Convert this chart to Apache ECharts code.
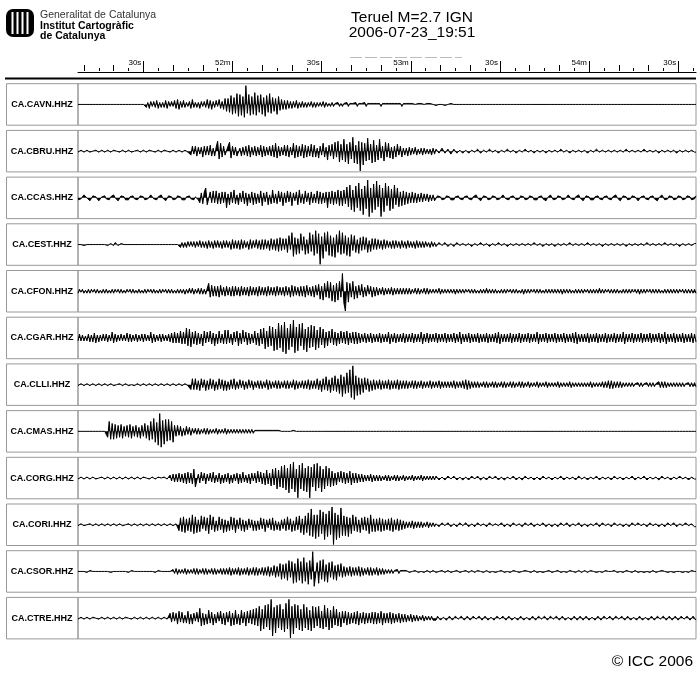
<!DOCTYPE html>
<html><head><meta charset="utf-8">
<script src="https://cdn.jsdelivr.net/npm/echarts@6/dist/echarts.min.js"></script>
<style>html,body{margin:0;padding:0;background:#fff}#c{width:700px;height:683px}</style>
</head><body><div id="c"></div>
<script>
// Seconds after 19:51:00 ; two samples per second ; one text row = 10 s
const stations = ['CA.CAVN.HHZ','CA.CBRU.HHZ','CA.CCAS.HHZ','CA.CEST.HHZ','CA.CFON.HHZ','CA.CGAR.HHZ',
                  'CA.CLLI.HHZ','CA.CMAS.HHZ','CA.CORG.HHZ','CA.CORI.HHZ','CA.CSOR.HHZ','CA.CTRE.HHZ'];
const t0 = 8, dt = 0.5;
const axisMin = 8, axisMax = 216;
const majorTicks = [30,60,90,120,150,180,210];
const majorLabels = ['30s','52m','30s','53m','30s','54m','30s'];
const tenTicks = [10,20,40,50,70,80,100,110,130,140,160,170,190,200];
const fiveTicks = [15,25,35,45,55,65,75,85,95,105,115,125,135,145,155,165,175,185,195,205,215];

const CAVN = [
0,0,0,0,0,0,0,0,0,0,0,0,0,0,0,0,0,0,0,0,
0,0,0,0,0,0,0,0,0,0,0,0,0,0,0,0,0,0,0,0,
0,0,0,0,0,0,3,-2,4,-3,2,-3,3,-4,4,-2,3,-2,3,-4,
4,-3,2,-3,2,-4,4,-5,5,-3,3,-4,3,-2,2,-3,4,-5,3,-2,
3,-2,4,-3,2,-3,3,-5,4,-4,5,-3,3,-4,2,-5,4,-3,5,-6,
7,-6,8,-9,10,-7,9,-11,12,-10,11,-8,13,-19,9,-10,11,-8,10,-12,
11,-9,8,-10,10,-7,12,-9,8,-11,9,-7,7,-6,10,-8,6,-5,5,-4,
5,-4,4,-3,4,-3,3,-4,4,-2,3,-3,3,-2,3,-2,2,-3,3,-2,
3,-2,2,-2,2,-3,3,-2,2,-1,2,-2,2,-1,1,-2,2,-1,2,-1,
1,-2,2,-1,1,-1,1,-2,2,-1,1,-1,1,-2,2,-1,1,-1,1,-1,
1,-1,1,-1,2,-1,1,-1,1,-1,1,-1,1,-1,1,-1,1,-1,2,-1,
1,-1,1,-1,1,-1,1,0,1,-1,1,-1,1,0,1,-1,1,-1,1,0,
0,1,1,0,-1,0,0,1,1,0,0,-1,-1,0,1,0,0,0,0,0,
1,0,-1,0,0,0,0,0,1,0,0,0,0,0,0,0,0,0,0,0,
0,0,0,0,0,0,1,0,-1,0,0,0,0,0,0,0,0,0,1,0,
0,0,0,0,0,0,0,0,0,0,0,0,0,0,1,0,-1,0,0,0,
0,0,0,0,0,0,0,0,0,0,0,0,0,0,0,0,0,0,1,0,
0,0,0,0,0,0,0,0,0,0,0,0,0,0,0,0,0,0,0,0,
0,0,0,0,0,0,0,0,0,0,0,0,0,0,0,0,0,0,0,0,
0,0,0,0,0,0,0,0,0,0,0,0,0,0,0,0,0,0,0,0,
0,0,0,0,0,0,0,0,0,0,0,0,0,0,0,0,0];
const CBRU = [
1,1,-1,-1,1,0,-1,-1,1,1,0,-1,-1,1,1,0,-1,-1,1,1,
-1,0,1,1,-1,-1,0,1,1,-1,-1,0,1,1,-1,-1,1,1,0,-1,
-1,1,1,0,-1,-1,1,1,-1,-1,0,1,1,-1,-1,0,1,1,-1,-1,
0,1,1,-1,-1,0,1,1,-1,-1,1,0,-1,1,1,-1,4,-5,3,-5,
5,-4,3,-4,6,-5,4,-5,4,-6,5,-3,5,-4,-10,8,-8,6,-5,4,
6,-5,-9,7,-5,4,-4,5,6,-3,5,-4,4,-5,5,-6,6,-4,4,-5,
5,-4,4,-6,6,-5,5,-4,4,-5,5,-6,6,-8,7,-5,5,-4,4,-6,
5,-6,6,-4,4,-8,7,-6,6,-5,5,-7,7,-6,6,-5,5,-7,6,-6,
6,-3,7,-5,4,-8,6,-4,9,-6,5,-7,8,-9,6,-10,11,-7,9,-12,
11,-7,13,-9,8,-14,12,-6,13,-10,20,-9,14,-8,10,-13,9,-7,12,-11,
11,-6,9,-12,7,-5,10,-9,6,-8,7,-4,8,-5,6,-7,4,-5,6,-3,
4,-3,5,-4,4,-3,3,-4,4,-2,3,-3,4,-3,3,-2,3,-2,4,-3,
3,-2,-3,2,2,-3,-3,2,3,-2,-2,3,3,-2,-2,2,2,-1,-2,2,
2,-1,-2,2,2,-1,-2,1,2,-2,-1,2,2,-1,-2,1,1,-2,-2,1,
2,-1,-1,2,2,-1,-2,1,1,-2,-2,1,2,-1,-1,2,2,-1,-2,1,
1,-2,-2,1,2,-1,-1,2,2,-1,-2,1,1,-1,-1,2,2,-1,-1,1,
2,-1,-1,1,1,-2,-2,1,1,-1,-1,2,2,-1,-1,1,1,-1,-2,1,
1,-1,-1,2,2,-1,-1,1,1,-2,-2,1,1,-1,-1,1,1,-1,-1,1,
2,-1,-1,1,1,-1,-1,1,1,-2,-2,1,1,-1,-1,1,1,-1,-1,1,
1,-2,-1,1,1,-1,-1,1,1,-1,-1,2,2,-1,-1,1,1,-1,-1,1,
1,-1,-1,2,2,-1,-1,1,1,-1,-1,1,1,-1,-1,1,1];
const CCAS = [
2,3,1,-1,-3,-2,0,2,3,1,-2,-3,-1,1,3,2,-1,-3,-2,1,
3,2,-1,-2,-3,0,2,3,1,-2,-3,-1,2,3,2,-1,-3,-2,1,3,
2,0,-2,-3,-1,2,3,1,-1,-3,-2,1,3,2,-1,-2,-3,0,2,3,
1,-2,-3,-1,2,3,1,-2,-3,-1,2,3,2,-1,-3,-2,1,3,2,-1,
-3,2,5,-5,6,-6,-10,7,6,-6,5,-7,5,-7,6,-5,6,-6,5,-6,
10,-4,7,-6,5,-8,6,-3,7,-5,4,-7,6,-5,8,-4,5,-6,7,-5,
6,-4,5,-7,8,-5,4,-6,7,-3,6,-8,5,-4,6,-7,4,-6,8,-5,
5,-7,4,-6,8,-5,3,-6,7,-8,5,-4,6,-7,4,-5,7,-6,5,-4,
5,-7,6,-6,6,-5,5,-6,10,-6,6,-7,7,-6,6,-8,8,-7,8,-8,
6,-11,9,-13,12,-8,14,-12,10,-15,13,-9,17,-12,11,-18,19,-10,15,-14,
12,-17,9,-13,19,-10,14,-15,8,-12,13,-9,11,-13,7,-10,9,-6,8,-7,
7,-6,6,-5,5,-6,5,-5,5,-4,4,-5,4,-4,3,-4,4,-3,3,-3,
3,1,-2,-3,-1,2,3,1,-2,-3,-1,2,3,2,-1,-3,-2,1,3,2,
-1,-3,-2,1,3,2,-1,-2,-3,0,2,3,1,-2,-3,-1,2,3,1,-2,
-3,-1,2,3,1,-1,-3,-2,1,3,2,-1,-3,-2,0,2,3,1,-2,-3,
-1,2,3,1,-2,-3,-1,2,3,2,-1,-3,-2,1,2,3,0,-2,-3,-1,
2,3,1,-2,-3,-1,2,3,1,-1,-3,-2,1,3,2,-1,-2,-3,0,2,
3,1,-2,-3,-1,2,3,2,-1,-3,-2,1,3,2,-1,-3,-2,1,3,2,
-1,-2,-3,0,2,3,1,-2,-3,-1,2,3,1,-2,-3,-1,1,3,2,-1,
-3,-2,1,3,2,-1,-3,-2,1,2,3,0,-2,-3,-1,2,3,1,-2,-3,
-1,2,3,1,-2,-3,-1,2,3,1,-2,-3,-1,2,3,1,-2];
const CEST = [
0,0,0,1,1,-1,0,0,0,0,0,0,0,1,0,0,0,0,0,0,
1,0,-1,1,1,-2,-1,1,1,-1,0,0,0,0,0,0,0,0,0,0,
1,0,-1,0,0,0,0,0,0,0,0,0,1,0,-1,0,0,0,0,0,
0,0,0,0,1,0,-1,0,0,3,-2,3,-2,3,-3,2,-3,2,-3,3,
-3,2,-4,3,-3,3,-3,4,-4,3,-3,4,-4,3,-4,3,-3,4,-4,3,
-4,3,-3,5,-5,4,-4,4,-4,5,-5,4,-4,3,-3,5,-5,4,-4,3,
-5,4,-4,5,-5,5,-5,4,-4,6,-6,5,-5,6,-6,7,-7,6,-6,5,
-6,8,-9,5,-12,12,-7,10,-6,9,-11,6,-8,10,-5,9,-12,7,-10,11,
-14,9,-11,20,-8,14,-12,7,-13,11,-9,12,-7,13,-10,8,-14,10,-12,9,
-9,11,-7,12,-10,6,-9,8,-5,9,-7,6,-8,5,-7,8,-4,7,-6,5,
-6,5,-5,4,-4,5,-5,4,-4,3,-3,4,-4,4,-4,3,-3,4,-4,3,
-3,4,-4,3,-3,3,-3,4,-4,3,-3,3,-3,3,-3,2,-2,3,-3,2,
-2,2,2,-2,-2,1,1,-2,-2,2,2,-1,-1,2,2,-2,-2,1,1,-1,
-2,1,1,-1,-1,2,2,-1,-1,1,1,-2,-2,1,1,-1,-1,2,2,-1,
-1,1,1,-2,-2,1,1,-1,-1,2,2,-1,-1,1,1,-1,-1,1,1,-1,
-2,1,1,-1,-1,1,1,-2,-2,1,1,-1,-1,2,2,-1,-1,1,1,-1,
-1,2,2,-1,-1,1,1,-1,-1,1,1,-2,-2,1,1,-1,-1,1,1,-1,
-1,1,1,-2,-2,1,1,-1,-1,1,1,-1,-1,2,2,-1,-1,1,1,-1,
-2,1,1,-1,-1,1,1,-1,-1,2,2,-1,-1,1,1,-1,-1,1,1,-1,
-1,1,1,-2,-2,1,1,-1,-1,1,1,-1,-1,1,1,-2,-2,1,1,-1,
-1,1,1,-1,-1,2,2,-1,-1,1,1,-1,-1,1,1,-1,-1];
const CFON = [
2,-2,1,-2,2,-1,2,-2,2,-2,1,-2,2,-2,2,-1,2,-2,2,-2,
2,-1,2,-2,2,-2,1,-2,2,-2,2,-1,2,-2,1,-2,2,-2,2,-1,
2,-2,2,-1,2,-2,2,-2,1,-2,2,-2,2,-1,2,-2,2,-2,1,-2,
2,-2,2,-2,2,-1,2,-2,2,-2,2,-2,3,-2,2,-3,2,-3,3,-2,
2,-3,3,-3,3,-2,3,-3,-8,6,-6,5,-5,5,-5,6,-6,4,-4,5,
-5,4,-4,5,-5,5,-5,4,-4,5,-5,4,-4,4,-4,5,-5,4,-4,4,
-4,5,-5,4,-4,4,-4,5,-5,4,-4,4,-4,5,-5,4,-4,4,-4,5,
-5,4,-4,6,-6,5,-5,4,-4,5,-5,5,-5,6,-6,4,-4,5,-5,6,
-6,4,-7,8,-5,9,-8,6,-10,7,-9,10,-6,11,-8,9,-10,6,-18,12,
20,-9,11,-8,6,-10,8,-5,7,-6,4,-7,6,-4,5,-6,3,-5,6,-4,
5,-4,4,-3,3,-4,4,-3,3,-3,3,-4,4,-3,3,-3,3,-3,3,-3,
3,-3,3,-3,3,-2,2,-3,3,-3,3,-2,2,-3,3,-3,3,-2,2,-2,
2,-2,2,-3,3,-2,2,-2,2,-2,2,-2,2,-2,3,-2,2,-2,2,-2,
2,-2,1,-2,2,-2,2,-2,2,-1,2,-2,2,-2,2,-3,2,-2,2,-2,
2,-2,2,-1,2,-2,2,-2,2,-2,1,-2,2,-2,2,-2,2,-1,2,-2,
3,-2,2,-2,2,-2,1,-2,2,-2,2,-2,2,-1,2,-2,2,-2,2,-2,
2,-2,2,-2,2,-2,3,-2,2,-2,2,-2,2,-1,2,-2,2,-2,2,-2,
2,-2,1,-2,2,-2,2,-2,2,-2,2,-3,2,-2,2,-2,1,-2,2,-2,
2,-2,2,-2,2,-1,2,-2,2,-2,2,-2,2,-2,1,-2,2,-2,3,-2,
2,-2,2,-2,1,-2,2,-2,2,-2,2,-2,2,-1,2,-2,2,-2,2,-2,
2,-2,2,-2,2,-2,1,-2,2,-2,2,-2,2,-2,2,-2,2];
const CGAR = [
3,-4,3,-3,3,-2,3,-4,4,-3,4,-5,5,-3,4,-3,3,-4,3,-4,
4,-3,3,-6,5,-4,4,-3,3,-4,3,-3,3,-5,4,-4,4,-3,3,-4,
4,-3,3,-4,4,-4,3,-3,3,-6,5,-4,4,-3,3,-4,4,-4,3,-3,
3,-4,4,-5,5,-6,5,-5,5,-7,6,-6,6,-10,8,-9,9,-6,6,-7,
7,-5,6,-4,8,-7,5,-6,4,-7,6,-5,8,-4,6,-7,5,-4,6,-8,
6,-8,5,-4,7,-6,4,-7,8,-5,6,-8,4,-6,7,-5,6,-4,5,-7,
7,-5,8,-9,6,-10,11,-7,9,-12,8,-11,13,-9,12,-15,10,-13,14,-16,
16,-10,12,-14,9,-18,15,-11,13,-14,8,-15,12,-9,14,-11,10,-13,9,-12,
12,-8,10,-11,7,-9,10,-6,8,-7,5,-9,7,-6,8,-5,6,-7,5,-6,
6,-7,7,-5,5,-6,6,-6,6,-5,5,-4,4,-5,5,-4,4,-5,5,-4,
4,-4,4,-5,5,-4,4,-4,4,-6,6,-4,4,-5,5,-4,4,-4,4,-5,
5,-4,4,-4,4,-5,5,-4,4,-4,4,-6,6,-4,4,-5,5,-4,4,-4,
4,-5,5,-4,4,-4,4,-5,5,-4,4,-4,4,-5,5,-4,4,-6,6,-4,
4,-4,4,-5,5,-4,4,-4,4,-5,5,-4,4,-4,4,-5,5,-4,4,-4,
4,-5,5,-6,6,-4,4,-4,4,-4,4,-5,5,-4,4,-4,4,-5,5,-4,
4,-4,4,-5,5,-4,4,-4,4,-6,6,-4,4,-4,4,-5,5,-4,4,-4,
4,-5,5,-4,4,-4,4,-5,5,-4,4,-4,4,-5,5,-6,6,-4,4,-4,
4,-4,4,-5,5,-4,4,-4,4,-5,5,-4,4,-4,4,-5,5,-4,4,-4,
4,-5,5,-4,4,-4,4,-6,6,-4,4,-4,4,-5,5,-4,4,-4,4,-5,
5,-4,4,-4,4,-5,5,-4,4,-4,4,-5,5,-4,4,-6,6,-4,4,-4,
4,-5,5,-4,4,-4,4,-5,5,-4,4,-4,4,-5,5,-4,4];
const CLLI = [
1,1,-1,-1,1,1,-1,-1,1,0,-1,-1,1,1,-1,-1,1,1,-1,0,
1,1,-1,-1,1,1,0,-1,-1,1,1,-1,-1,1,1,-1,0,1,1,-1,
-1,1,1,-1,-1,0,1,1,-1,-1,1,1,-1,-1,1,0,-1,-1,1,1,
-1,-1,1,1,-1,-1,1,1,-1,-1,1,1,-1,0,1,1,5,-6,5,-6,
5,-4,6,-6,3,-5,6,-4,5,-6,4,-5,6,-3,5,-6,4,-5,6,-4,
6,-3,5,-5,4,-6,5,-3,4,-5,3,-4,5,-3,4,-5,3,-4,5,-3,
3,-4,4,-4,4,-3,3,-5,5,-4,4,-3,3,-4,4,-4,4,-3,3,-4,
4,-4,4,-3,3,-5,5,-4,4,-3,3,-4,4,-4,4,-5,5,-4,4,-4,
4,-6,5,-4,7,-6,5,-8,6,-5,8,-7,6,-9,7,-6,9,-10,12,-8,
9,-12,8,-15,13,-19,15,-9,11,-7,10,-6,8,-7,5,-6,7,-4,6,-5,
5,-4,4,-5,5,-4,4,-4,4,-5,5,-4,4,-4,4,-5,5,-4,4,-4,
4,-4,4,-3,3,-4,4,-4,4,-3,3,-4,4,-3,3,-3,3,-4,4,-3,
3,-3,3,-4,4,-3,3,-3,3,-3,3,-3,3,-4,4,-3,3,-3,3,-4,
4,-5,5,-4,4,-3,3,-3,3,-3,3,-2,2,-3,3,-3,3,-2,2,-3,
3,-3,3,-2,2,-3,3,-3,3,-2,2,-3,3,-3,3,-2,2,-3,3,-3,
3,-2,2,-3,3,-2,2,-2,2,-3,3,-2,2,-2,2,-3,3,-2,2,-2,
2,-2,2,-3,3,-2,2,-2,2,-2,2,-3,3,-2,2,-2,2,-2,2,-2,
2,-2,2,-2,2,-3,3,-2,2,-2,2,-2,2,-3,3,-3,3,-4,4,-4,
4,-3,3,-3,3,-3,3,-2,2,-2,2,-2,2,-2,2,-1,1,-2,2,-2,
2,-1,1,-2,2,-2,2,-2,2,-1,1,-3,3,-3,3,-3,3,-2,2,-2,
2,-2,2,-2,2,-2,2,-2,2,-1,1,-2,2,-2,2,-2,2];
const CMAS = [
0,0,0,0,0,0,0,0,0,0,0,0,0,0,0,0,0,0,0,0,
6,-10,8,-8,8,-7,7,-6,6,-7,7,-5,5,-6,6,-7,7,-5,5,-6,
6,-4,7,-6,5,-8,7,-6,9,-10,8,-13,11,-9,14,-18,16,-11,13,-12,
10,-12,9,-10,11,-6,5,-6,4,-5,5,-3,4,-5,3,-4,4,-3,2,-3,
3,-3,3,-2,2,-3,3,-3,3,-2,2,-2,2,-3,3,-2,2,-2,2,-3,
3,-2,2,-2,2,-2,2,-2,2,-2,2,-2,2,-2,2,-2,2,-2,2,-1,
1,-1,1,-1,1,-1,1,-1,1,-1,1,-1,1,-1,1,-1,0,0,1,0,
-1,0,0,0,1,-1,0,0,0,0,0,0,0,0,0,0,0,0,1,0,
0,0,0,0,0,0,0,0,0,0,0,0,0,0,0,0,0,0,0,0,
0,0,0,0,0,0,0,0,0,0,0,0,0,0,0,0,0,0,0,0,
0,0,0,0,0,0,0,0,0,0,0,0,0,0,0,0,0,0,0,0,
0,0,0,0,0,0,0,0,0,0,0,0,0,0,0,0,0,0,0,0,
0,0,0,0,0,0,0,0,0,0,0,0,0,0,0,0,0,0,0,0,
0,0,0,0,0,0,0,0,0,0,0,0,0,0,0,0,0,0,0,0,
0,0,0,0,0,0,0,0,0,0,0,0,0,0,0,0,0,0,0,0,
0,0,0,0,0,0,0,0,0,0,0,0,0,0,0,0,0,0,0,0,
0,0,0,0,0,0,0,0,0,0,0,0,0,0,0,0,0,0,0,0,
0,0,0,0,0,0,0,0,0,0,0,0,0,0,0,0,0,0,0,0,
0,0,0,0,0,0,0,0,0,0,0,0,0,0,0,0,0,0,0,0,
0,0,0,0,0,0,0,0,0,0,0,0,0,0,0,0,0,0,0,0,
0,0,0,0,0,0,0,0,0,0,0,0,0,0,0,0,0];
const CORG = [
1,1,-1,-1,1,0,-1,-1,1,1,-1,-1,1,1,0,-1,-1,1,1,-1,
-1,1,1,-1,-1,1,1,0,-1,-1,1,1,-1,-1,1,1,-1,0,1,1,
-1,-1,1,1,-1,-1,0,1,1,-1,-1,1,1,-1,-1,1,0,-1,-1,1,
1,-1,-3,3,-4,4,-4,4,-5,4,-4,5,-5,6,-6,5,-5,6,-9,9,
9,-4,5,-6,3,-5,6,-4,3,-5,4,-6,5,-3,4,-5,6,-3,5,-4,
4,-5,6,-3,5,-4,3,-5,6,-4,5,-6,4,-3,5,-4,6,-5,3,-5,
5,-7,4,-6,6,-5,7,-8,6,-5,8,-9,7,-10,11,-8,9,-12,10,-13,
12,-10,15,-14,11,-16,14,-9,20,-13,11,-15,13,-10,14,-12,20,-11,9,-14,
13,-15,10,-12,14,-9,11,-12,8,-10,9,-7,8,-5,7,-6,4,-7,5,-6,
6,-5,5,-7,7,-5,5,-5,5,-4,4,-4,4,-3,3,-3,3,-4,4,-3,
3,-3,3,-3,3,-2,2,-3,3,-3,3,-2,2,-3,3,-3,3,-2,2,-3,
3,-2,2,-2,2,-3,3,-2,2,-2,2,-3,3,-2,2,-2,2,-2,2,-2,
2,-2,-2,2,2,-1,-1,2,2,-2,-2,1,1,-2,-2,2,2,-1,-1,2,
2,-1,-1,2,2,-2,-2,1,1,-2,-2,2,2,-1,-1,2,2,-2,-2,1,
1,-2,-2,2,2,-1,-1,2,2,-1,-1,1,1,-2,-2,2,2,-1,-1,2,
2,-2,-2,1,1,-1,-1,2,2,-1,-1,2,2,-2,-2,1,1,-1,-1,2,
2,-1,-1,1,1,-2,-2,2,2,-1,-1,1,1,-1,-1,2,2,-2,-2,1,
1,-1,-1,2,2,-1,-1,1,1,-2,-2,2,2,-1,-1,1,1,-1,-1,2,
2,-2,-2,1,1,-1,-1,2,2,-1,-1,1,1,-2,-2,2,2,-1,-1,1,
1,-2,-2,2,2,-1,-1,1,1,-1,-1,2,2,-2,-2,1,1,-1,-1,2,
2,-1,-1,1,1,-2,-2,1,1,-1,-1,2,2,-1,-1,1,1];
const CORI = [
1,1,-1,-1,1,1,0,-1,-1,1,1,-1,-1,0,1,1,-1,-1,1,1,
-1,-1,1,0,-1,-1,1,1,-1,-1,1,1,0,-1,-1,1,1,-1,-1,1,
1,-1,-1,0,1,1,-1,-1,1,1,-1,-1,1,0,-1,-1,1,1,-1,-1,
1,1,-1,-1,1,0,-1,-1,6,-7,7,-8,8,-6,6,-7,7,-10,9,-8,
8,-5,7,-9,4,-8,6,-7,9,-10,5,-8,7,-4,6,-8,5,-6,8,-5,
7,-4,6,-8,5,-7,8,-5,4,-7,6,-5,7,-4,5,-6,3,-5,6,-4,
6,-4,5,-7,4,-6,7,-5,3,-6,5,-7,6,-4,5,-3,6,-5,4,-6,
6,-8,5,-6,7,-4,6,-8,5,-9,8,-6,10,-9,8,-12,11,-16,12,-10,
14,-10,12,-15,9,-13,15,-11,12,-14,10,-18,20,-12,15,-10,13,-17,11,-9,
11,-8,12,-7,9,-10,6,-8,7,-5,8,-7,5,-8,6,-7,9,-10,7,-6,
7,-6,6,-7,7,-6,6,-5,5,-6,6,-7,7,-5,5,-6,6,-5,5,-4,
4,-3,3,-3,3,-4,4,-3,3,-3,3,-3,3,-2,2,-3,3,-2,2,-2,
2,-1,-1,2,2,-2,-2,1,1,-2,-2,2,2,-1,-1,2,2,-2,-2,1,
1,-2,-2,2,2,-1,-1,2,2,-2,-2,1,1,-1,-1,2,2,-2,-2,1,
2,-1,-1,1,1,-2,-2,2,2,-1,-1,2,2,-2,-2,1,1,-1,-1,2,
2,-2,-2,1,1,-2,-2,2,2,-1,-1,1,1,-2,-2,2,2,-1,-1,2,
1,-1,-1,2,2,-2,-2,1,1,-2,-2,2,2,-1,-1,1,1,-2,-2,2,
2,-1,-1,2,2,-1,-1,1,1,-2,-2,2,2,-2,-2,1,1,-1,-1,2,
2,-2,-2,1,1,-1,-1,2,2,-1,-1,2,2,-2,-2,1,1,-2,-2,1,
1,-1,-1,2,2,-2,-2,1,1,-1,-1,2,2,-1,-1,2,2,-2,-2,1,
1,-2,-2,2,2,-1,-1,1,1,-2,-2,1,1,-1,-1,2,2];
const CSOR = [
0,0,0,0,0,0,1,0,-1,0,0,0,0,0,0,0,0,0,0,0,
0,0,1,0,0,0,0,0,0,0,0,0,0,0,1,0,-1,0,0,0,
0,0,0,0,0,0,0,0,0,0,0,0,1,0,-1,0,0,0,0,0,
0,0,0,2,-2,2,-3,3,-2,2,-2,2,-3,3,-2,2,-2,2,-3,3,
-3,3,-2,2,-3,3,-3,3,-2,2,-3,3,-3,3,-2,2,-3,3,-3,3,
-3,3,-4,4,-3,3,-3,3,-4,4,-3,3,-3,3,-4,4,-3,3,-4,4,
-4,4,-3,3,-4,4,-4,4,-5,5,-4,4,-6,6,-5,5,-8,8,-7,7,
-8,9,-11,6,-10,12,-8,11,-13,9,-10,12,-14,10,-9,13,-11,8,-20,15,
15,-9,12,-11,8,-12,10,-7,11,-9,6,-10,8,-6,9,-7,5,-8,6,-5,
5,-4,4,-5,5,-4,4,-4,4,-5,5,-4,4,-3,3,-4,4,-4,4,-3,
3,-4,4,-3,3,-3,3,-2,2,-2,2,-2,2,-1,1,-2,2,-1,1,-1,
1,-1,-1,1,1,0,-1,-1,1,1,-1,0,1,1,-1,-1,0,1,1,-1,
-1,1,1,0,-1,-1,1,1,0,-1,-1,1,1,0,-1,-1,0,1,1,0,
-1,-1,1,1,0,-1,0,1,1,-1,-1,0,1,1,0,-1,-1,1,0,0,
-1,1,1,0,-1,-1,1,1,0,0,-1,1,1,-1,0,0,1,1,-1,0,
1,-1,-1,0,1,1,0,-1,-1,1,0,0,-1,1,1,0,-1,-1,0,1,
1,0,-1,-1,1,1,0,0,-1,1,1,-1,-1,0,1,1,0,-1,-1,1,
0,-1,1,1,0,-1,-1,0,1,1,-1,0,0,1,1,-1,-1,0,1,0,
0,-1,1,1,-1,0,0,1,1,-1,-1,0,1,1,0,-1,0,1,-1,0,
1,1,-1,0,0,1,-1,-1,0,1,1,0,-1,-1,1,0,0,1,-1,0,
-1,1,1,0,-1,0,1,1,-1,0,0,1,-1,-1,1,0,0];
const CTRE = [
1,1,-1,-1,1,0,-1,-1,1,1,-1,-1,0,1,1,-1,-1,1,1,0,
-1,-1,1,1,-1,-1,1,0,-1,-1,1,1,-1,-1,0,1,1,-1,-1,1,
1,-1,-1,1,1,0,-1,-1,1,1,-1,-1,1,0,-1,-1,1,1,-1,-1,
1,0,-5,4,-6,3,-5,6,-7,4,-6,5,-3,5,-7,6,-4,6,-5,3,
-6,4,-10,8,-5,7,-4,6,-8,5,-6,7,-4,5,-6,3,-7,6,-5,7,
-6,4,-7,8,-5,7,-8,6,-4,7,-8,5,-6,8,-7,5,-8,6,-9,7,
-10,8,-12,13,-9,11,-13,9,-14,12,-19,18,-11,15,-13,10,-14,12,-9,14,
-15,11,-19,20,-12,16,-14,10,-13,12,-9,13,-14,10,-11,12,-8,13,-12,10,
-11,8,-12,10,-7,11,-13,9,-10,12,-8,10,-12,7,-9,8,-6,9,-7,5,
-7,7,-6,6,-5,5,-6,6,-7,7,-5,5,-6,6,-5,5,-5,5,-6,6,
-6,6,-5,5,-7,7,-5,5,-5,5,-6,6,-5,5,-4,4,-5,5,-4,4,
-4,4,-3,3,-4,4,-3,3,-3,3,-2,2,-3,3,-2,2,-2,2,-2,2,
2,2,-2,-2,2,1,-1,-2,2,2,-2,-2,2,2,-2,-2,1,1,-2,-2,
2,2,-2,-2,2,2,-2,-2,1,1,-2,-2,2,2,-2,-2,2,2,-1,-1,
2,2,-2,-2,1,1,-2,-2,2,2,-2,-2,2,2,-1,-1,2,2,-2,-2,
2,2,-1,-1,2,2,-2,-2,2,2,-2,-2,1,1,-2,-2,2,2,-2,-2,
1,1,-2,-2,2,2,-2,-2,2,2,-1,-1,2,2,-2,-2,2,2,-2,-2,
2,2,-2,-2,2,2,-1,-1,2,2,-2,-2,2,2,-2,-2,1,1,-2,-2,
2,2,-2,-2,1,1,-2,-2,2,2,-2,-2,2,2,-1,-1,2,2,-2,-2,
2,2,-1,-1,2,2,-2,-2,2,2,-2,-2,1,1,-2,-2,2,2,-2,-2,
2,2,-2,-2,2,2,-2,-2,1,1,-2,-2,2,2,-2,-2,2];

const traces = [CAVN, CBRU, CCAS, CEST, CFON, CGAR, CLLI, CMAS, CORG, CORI, CSOR, CTRE];

const FONT = '"Liberation Sans", Arial, sans-serif';
const rowTop0 = 83.7, rowStep = 46.7, rowH = 41.5;
const grids = [], xAxes = [], yAxes = [], series = [], graphics = [];

stations.forEach((name, i) => {
  const top = rowTop0 + rowStep * i;
  grids.push({left: 78, right: 4, top: top, height: rowH, show: true, borderColor: '#999', borderWidth: 1, backgroundColor: 'transparent'});
  xAxes.push({gridIndex: i, type: 'value', min: axisMin, max: axisMax, show: false});
  yAxes.push({gridIndex: i, type: 'value', min: -21, max: 21, inverse: true, show: false});
  series.push({
    type: 'line', xAxisIndex: i, yAxisIndex: i, symbol: 'none', showSymbol: false, silent: true, clip: true,
    lineStyle: {color: '#000', width: 1},
    areaStyle: {color: '#000', opacity: 1, origin: 0},
    data: traces[i].map((v, k) => [t0 + k * dt, v])
  });
  graphics.push({type: 'rect', shape: {x: 6.5, y: top, width: 71.5, height: rowH},
    style: {fill: 'none', stroke: '#999', lineWidth: 1}});
  graphics.push({type: 'text', x: 42, y: top + rowH / 2,
    style: {text: name, fontSize: 9, fontWeight: 'bold', fontFamily: FONT, fill: '#000', align: 'center', verticalAlign: 'middle'}});
});

// time ruler (grid index 12)
grids.push({left: 78, right: 4, top: 71, height: 1, show: false});
yAxes.push({gridIndex: 12, type: 'value', show: false, min: 0, max: 1});
xAxes.push({gridIndex: 12, type: 'value', position: 'top', min: axisMin, max: axisMax,
  axisLine: {show: true, lineStyle: {color: '#000', width: 1}},
  axisTick: {show: true, customValues: majorTicks, length: 11, lineStyle: {color: '#000', width: 1}},
  axisLabel: {show: true, customValues: majorTicks, formatter: v => majorLabels[majorTicks.indexOf(v)] || '',
    fontSize: 8, fontFamily: FONT, color: '#000', align: 'right', margin: 4, padding: [0, 2, 0, 0]},
  splitLine: {show: false}});
xAxes.push({gridIndex: 12, type: 'value', position: 'top', min: axisMin, max: axisMax,
  axisLine: {show: false}, axisLabel: {show: false}, splitLine: {show: false},
  axisTick: {show: true, customValues: tenTicks, length: 6, lineStyle: {color: '#000', width: 1}}});
xAxes.push({gridIndex: 12, type: 'value', position: 'top', min: axisMin, max: axisMax,
  axisLine: {show: false}, axisLabel: {show: false}, splitLine: {show: false},
  axisTick: {show: true, customValues: fiveTicks, length: 3, lineStyle: {color: '#000', width: 1}}});

// header / decorations
graphics.push({type: 'line', shape: {x1: 5, y1: 78.5, x2: 696, y2: 78.5}, style: {stroke: '#000', lineWidth: 2}});
graphics.push({type: 'line', shape: {x1: 350, y1: 57.5, x2: 462, y2: 57.5}, style: {stroke: '#bbb', lineWidth: 1, lineDash: [12, 3]}});
graphics.push({type: 'text', x: 412, y: 17.5, style: {text: 'Teruel M=2.7 IGN', fontSize: 15.5, fontFamily: FONT, fill: '#000', align: 'center', verticalAlign: 'middle'}});
graphics.push({type: 'text', x: 412, y: 32.5, style: {text: '2006-07-23_19:51', fontSize: 15.5, fontFamily: FONT, fill: '#000', align: 'center', verticalAlign: 'middle'}});
graphics.push({type: 'text', x: 40, y: 15, style: {text: 'Generalitat de Catalunya', fontSize: 10.5, fontFamily: FONT, fill: '#333', align: 'left', verticalAlign: 'middle'}});
graphics.push({type: 'text', x: 40, y: 26, style: {text: 'Institut Cartogràfic', fontSize: 10.5, fontWeight: 'bold', fontFamily: FONT, fill: '#000', align: 'left', verticalAlign: 'middle'}});
graphics.push({type: 'text', x: 40, y: 36.5, style: {text: 'de Catalunya', fontSize: 10.5, fontWeight: 'bold', fontFamily: FONT, fill: '#000', align: 'left', verticalAlign: 'middle'}});
graphics.push({type: 'text', x: 693, y: 662, style: {text: '© ICC 2006', fontSize: 15.5, fontFamily: FONT, fill: '#000', align: 'right', verticalAlign: 'middle'}});
// emblem
graphics.push({type: 'rect', shape: {x: 6, y: 9, width: 28, height: 28, r: 7}, style: {fill: '#000'}});
[10.5, 15.5, 20.5, 25.5].forEach(x => {
  graphics.push({type: 'rect', shape: {x: x + 1, y: 12, width: 2, height: 22}, style: {fill: '#fff'}});
});

const chart = echarts.init(document.getElementById('c'), null, {renderer: 'canvas'});
chart.setOption({
  animation: false,
  backgroundColor: '#fff',
  grid: grids, xAxis: xAxes, yAxis: yAxes, series: series,
  graphic: graphics
});
</script></body></html>
